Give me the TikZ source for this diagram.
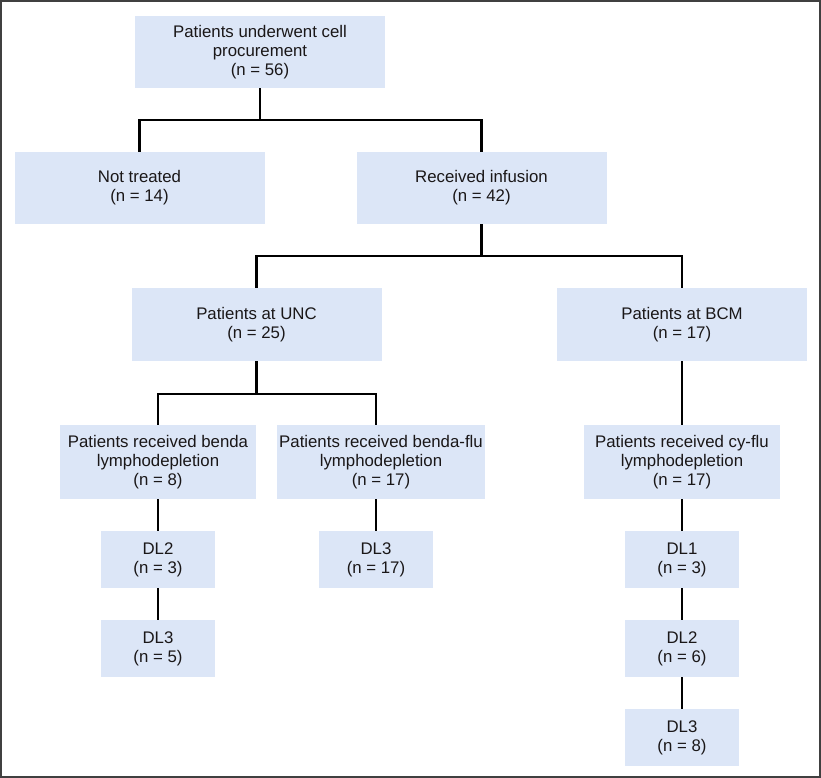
\documentclass[tikz,border=0pt]{standalone}
\usepackage{fontspec}
\setmainfont{Liberation Sans}
\definecolor{boxfill}{HTML}{DCE6F7}
\definecolor{txt}{HTML}{1A1718}
\begin{document}
\begin{tikzpicture}[x=1pt,y=-1pt,
  fbox/.style={fill=boxfill, draw=none, align=center, text=txt, inner sep=0pt,
    font=\fontsize{16.8}{19}\selectfont},
  wide/.style={fbox, minimum width=250pt, minimum height=72pt},
  mid/.style={fbox, minimum width=196pt, minimum height=74pt},
  small/.style={fbox, minimum width=114pt, minimum height=57pt},
  conn/.style={draw=black, line width=2.3pt}]
\useasboundingbox (0,0) rectangle (821,778);
\draw[draw=black!75, line width=1.2pt] (1,1) rectangle (820,777);

\node[wide] (top) at (260,52) {Patients underwent cell\\procurement\\(n = 56)};
\node[wide] (nt) at (139.5,188) {Not treated\\(n = 14)};
\node[wide] (ri) at (481.5,188) {Received infusion\\(n = 42)};
\node[wide, minimum height=73pt] (unc) at (256.5,324.5) {Patients at UNC\\(n = 25)};
\node[wide, minimum height=73pt] (bcm) at (682,324.5) {Patients at BCM\\(n = 17)};
\node[mid] (benda) at (158,462) {Patients received benda\\lymphodepletion\\(n = 8)};
\node[mid, minimum width=208pt] (bflu) at (381,462) {Patients received benda-flu\\lymphodepletion\\(n = 17)};
\node[mid] (cyflu) at (682,462) {Patients received cy-flu\\lymphodepletion\\(n = 17)};
\node[small] (bdltwo) at (158,559.5) {DL2\\(n = 3)};
\node[small] (bdlthree) at (158,648.5) {DL3\\(n = 5)};
\node[small] (fdlthree) at (376,559.5) {DL3\\(n = 17)};
\node[small] (cdlone) at (682,559.5) {DL1\\(n = 3)};
\node[small] (cdltwo) at (682,648.5) {DL2\\(n = 6)};
\node[small] (cdlthree) at (682,737.5) {DL3\\(n = 8)};

\draw[conn] (top.south) -- ++(0,32) coordinate (ja);
\draw[conn] (nt.north) |- (ja) -| (ri.north);
\draw[conn] (ri.south) -- ++(0,32) coordinate (jb);
\draw[conn] (unc.north) |- (jb) -| (bcm.north);
\draw[conn] (unc.south) -- ++(0,33) coordinate (jc);
\draw[conn] (benda.north) |- (jc) -| ([xshift=-5pt]bflu.north);
\draw[conn] (bcm.south) -- (cyflu.north);
\draw[conn] (benda.south) -- (bdltwo.north);
\draw[conn] (bdltwo.south) -- (bdlthree.north);
\draw[conn] ([xshift=-5pt]bflu.south) -- (fdlthree.north);
\draw[conn] (cyflu.south) -- (cdlone.north);
\draw[conn] (cdlone.south) -- (cdltwo.north);
\draw[conn] (cdltwo.south) -- (cdlthree.north);
\end{tikzpicture}
\end{document}
